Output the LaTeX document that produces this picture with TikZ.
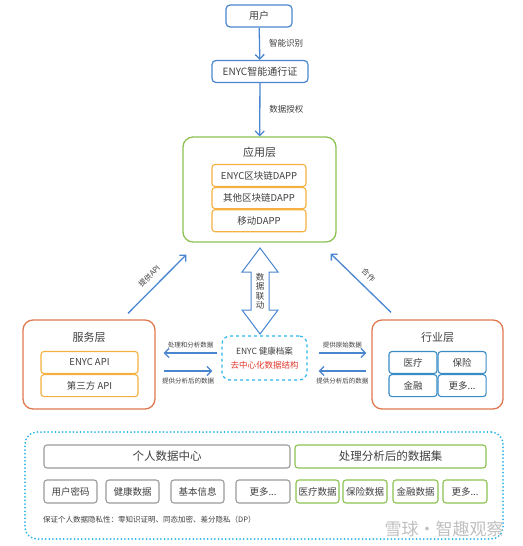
\documentclass[tikz,border=0pt]{standalone}
\usepackage{fontspec}
\setmainfont{Noto Sans CJK SC}
\usetikzlibrary{positioning,arrows.meta,calc}

\definecolor{lineblue}{HTML}{4A86CF}
\definecolor{appgreen}{HTML}{8CC152}
\definecolor{apporange}{HTML}{F5B041}
\definecolor{layerred}{HTML}{E0794F}
\definecolor{dashcyan}{HTML}{2BB5E8}
\definecolor{boxgray}{HTML}{9A9A9A}
\definecolor{textgray}{HTML}{3F3F3F}
\definecolor{indblue}{HTML}{3A8CC6}
\definecolor{hubred}{HTML}{E23A2E}

\newcommand{\fs}[1]{\fontsize{#1}{#1}\selectfont}

\begin{document}
\begin{tikzpicture}[x=1pt,y=-1pt]
 \tikzset{every node/.style={text=textgray, inner sep=0pt}, }
 \tikzset{top node/.style={rectangle, draw=lineblue, line width=1.2pt,
 		rounded corners=4pt, fill=white, minimum height=22pt, font=\fs{10}}, }
 \tikzset{layer node/.style={rectangle, draw, line width=1.3pt,
 		rounded corners=10pt, fill=white}, }
 \tikzset{item node/.style={rectangle, draw, line width=1.1pt,
 		rounded corners=3pt, minimum height=22pt, font=\fs{9.5}}, }
 \tikzset{title node/.style={font=\fs{11}}, }
 \tikzset{tag node/.style={inner sep=2pt, font=\fs{6.5}}, }
 \tikzset{linea/.style={-{Straight Barb[length=4.5pt,width=9pt]},
 		draw=lineblue, line width=1.3pt},}
 \useasboundingbox (0,0) rectangle (522,546);

 % identity chain
 \node[top node, minimum width=66pt] (user) at (259,16) {用户};
 \node[top node, minimum width=96pt] (pass) at (260,71.5) {ENYC智能通行证};

 % application layer
 \node[layer node, draw=appgreen, minimum width=153pt, minimum height=105pt] (app) at (259.5,189.5) {};
 \node[title node] (apptitle) at ($(app.north)+(0,16)$) {应用层};
 \node[item node, draw=apporange, minimum width=94pt] (dapp1) at (259,175.5) {ENYC区块链DAPP};
 \node[item node, draw=apporange, minimum width=94pt, minimum height=21pt] (dapp2) [below=0pt of dapp1] {其他区块链DAPP};
 \node[item node, draw=apporange, minimum width=94pt] (dapp3) [below=0pt of dapp2] {移动DAPP};

 % service layer
 \node[layer node, draw=layerred, minimum width=132pt, minimum height=89pt] (svc) at (89,364.5) {};
 \node[title node] (svctitle) at ($(svc.north)+(0,18)$) {服务层};
 \node[item node, draw=apporange, minimum width=97pt] (api1) at (89.5,362.5) {ENYC API};
 \node[item node, draw=apporange, minimum width=97pt] (api2) [below=0pt of api1] {第三方 API};

 % industry layer
 \node[layer node, draw=layerred, minimum width=131pt, minimum height=89pt] (ind) at (437.5,364.5) {};
 \node[title node] (indtitle) at ($(ind.north)+(0,18)$) {行业层};
 \node[item node, draw=indblue, minimum width=48pt] (med) at (413,362.5) {医疗};
 \node[item node, draw=indblue, minimum width=48pt] (ins) [right=0pt of med] {保险};
 \node[item node, draw=indblue, minimum width=48pt] (fin) [below=0pt of med] {金融};
 \node[item node, draw=indblue, minimum width=48pt] (more) [right=0pt of fin] {更多...};

 % health record hub
 \node[rectangle, draw=dashcyan, dashed, line width=1.2pt, rounded corners=8pt,
 	minimum width=85pt, minimum height=44pt, align=center, font=\fs{8.5}] (hub) at (264.5,358)
 	{ENYC 健康档案\\[5pt]\textcolor{hubred}{去中心化数据结构}};

 % data link block arrow
 \draw[lineblue, line width=1pt, fill=white] (260,248) -- (278,272) -- (269,272) -- (269,310)
 	-- (278,310) -- (260,334) -- (242,310) -- (251,310) -- (251,272) -- (242,272) -- cycle;
 \foreach \y/\c [count=\i] in {277/数, 286.5/据, 296/联, 305.5/动}
 	\node[font=\fs{8.5}] (link\i) at (260,\y) {\c};

 % connectors
 \draw[linea] (user) -- (pass) node[midway, right=9pt, font=\fs{8.5}] {智能识别};
 \draw[linea] (pass) -- (app) node[midway, right=9pt, font=\fs{8.5}] {数据授权};
 \draw[linea] ([xshift=39pt,yshift=6pt]svc.north) -- ([xshift=4pt,yshift=-12pt]app.south west)
 	node[midway, sloped, above=5pt, tag node, font=\fs{7.5}] {提供API};
 \draw[linea] ([xshift=-46.5pt,yshift=7pt]ind.north) -- ([xshift=-6pt,yshift=-11pt]app.south east)
 	node[midway, sloped, above=5pt, tag node, font=\fs{7.5}] {合作};

 \draw[linea] ([xshift=-4pt,yshift=5pt]hub.west) coordinate (l1) -- ([xshift=8pt]l1 -| svc.east)
 	node[midway, above=2pt, tag node] {处理和分析数据};
 \draw[linea] ([xshift=8pt,yshift=-6.5pt]svc.east) coordinate (l2) -- ([xshift=-9pt]l2 -| hub.west)
 	node[midway, below=4pt, tag node] {提供分析后的数据};
 \draw[linea] ([xshift=11pt,yshift=5pt]hub.east) coordinate (r1) -- ([xshift=-5pt]r1 -| ind.west)
 	node[midway, above=2pt, tag node] {提供原始数据};
 \draw[linea] ([xshift=-5pt,yshift=-6.5pt]ind.west) coordinate (r2) -- ([xshift=11pt]r2 -| hub.east)
 	node[midway, below=4pt, tag node] {提供分析后的数据};

 % personal data pool
 \node[rectangle, draw=dashcyan, line width=2pt, dash pattern=on 0pt off 3.6pt, line cap=round,
 	rounded corners=12pt, minimum width=478pt, minimum height=107pt] (pool) at (264,485.5) {};
 \node[item node, draw=boxgray, minimum width=246pt, minimum height=23pt, font=\fs{11.5}] (own) at (167,456.5) {个人数据中心};
 \node[item node, draw=appgreen, minimum width=191pt, minimum height=23pt, font=\fs{11.5}] (proc) at (390.5,456.5) {处理分析后的数据集};
 \foreach \x/\w/\n/\t in {70.5/53/pwd/用户密码, 132.5/53/hlt/健康数据, 197.5/53/base/基本信息, 263/54/omore/{更多...}}
 	\node[item node, draw=boxgray, minimum width=\w pt, minimum height=23pt] (\n) at (\x,491.5) {\t};
 \foreach \x/\w/\n/\t in {317.5/43/pmed/医疗数据, 365/44/pins/保险数据, 415.5/45/pfin/金融数据, 465/44/pmore/{更多...}}
 	\node[item node, draw=appgreen, minimum width=\w pt, minimum height=23pt] (\n) at (\x,491.5) {\t};
 \node[anchor=west, font=\fs{7.5}] (privacy) at (43,520) {保证个人数据隐私性：零知识证明、同态加密、差分隐私（DP）};
 \node[text=black!25, font=\fs{17}] (mark) at (444,529) {雪球·智趣观察};
\end{tikzpicture}
\end{document}
